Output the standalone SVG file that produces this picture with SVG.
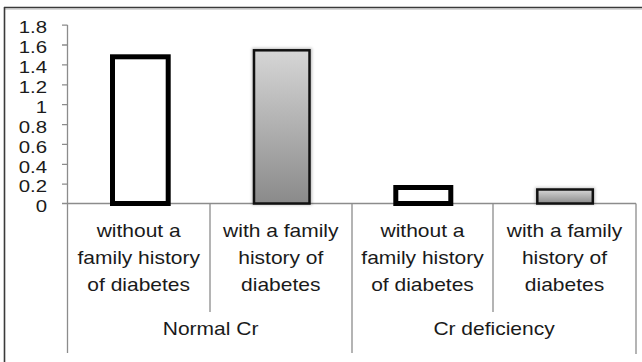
<svg xmlns="http://www.w3.org/2000/svg" width="642" height="362" viewBox="0 0 642 362">
<defs>
<linearGradient id="gray" x1="0" y1="0" x2="0" y2="1">
<stop offset="0" stop-color="#d6d6d6"/>
<stop offset="1" stop-color="#8a8a8a"/>
</linearGradient>
<filter id="sh" x="-20%" y="-20%" width="140%" height="140%">
<feGaussianBlur stdDeviation="1.5"/>
</filter>
<style>
.t{font-family:"Liberation Sans",Arial,sans-serif;font-size:17.5px;fill:#1a1a1a;text-anchor:middle}
.tk{font-family:"Liberation Sans",Arial,sans-serif;font-size:17px;fill:#1a1a1a;text-anchor:end}
.ax{stroke:#8c8c8c;stroke-width:1.3;fill:none}
.open{fill:#fff;stroke:#000;stroke-width:5}
.grad{fill:url(#gray);stroke:#111;stroke-width:2.5}
</style>
</defs>
<rect width="642" height="362" fill="#fff"/>
<g id="frame">
<line x1="4" y1="9.2" x2="642" y2="9.2" stroke="#c8c8c8" stroke-width="1"/>
<line x1="4" y1="7.5" x2="642" y2="7.5" stroke="#3a3a3a" stroke-width="1.6"/>
<line x1="4.5" y1="7" x2="4.5" y2="362" stroke="#3a3a3a" stroke-width="1.6"/>
</g>
<g id="axes" class="ax">
<line x1="67.5" y1="25" x2="67.5" y2="353"/>
<line x1="62" y1="203.5" x2="636" y2="203.5"/>
<path d="M62 25.1H67.5M62 45H67.5M62 64.9H67.5M62 84.8H67.5M62 104.7H67.5M62 124.6H67.5M62 144.4H67.5M62 164.3H67.5M62 184.2H67.5"/>
<line x1="210" y1="203.5" x2="210" y2="312"/>
<line x1="352" y1="203.5" x2="352" y2="353"/>
<line x1="493" y1="203.5" x2="493" y2="312"/>
<line x1="636" y1="203.5" x2="636" y2="354"/>
</g>
<g id="bars">
<rect id="bar1" class="open" x="112.5" y="56.8" width="55.7" height="146.7"/>
<rect x="252" y="48" width="60" height="157" fill="#000" opacity="0.25" filter="url(#sh)"/>
<rect id="bar2" class="grad" x="254" y="50.3" width="55.5" height="153.2"/>
<rect id="bar3" class="open" x="395.8" y="187.5" width="55" height="16"/>
<rect x="535" y="187.5" width="60" height="17" fill="#000" opacity="0.25" filter="url(#sh)"/>
<rect id="bar4" class="grad" x="537.3" y="189.5" width="55.5" height="14"/>
</g>
<g id="labels" transform="scale(1.2 1)">
<g id="yticks">
<text class="tk" x="39.2" y="33.5">1.8</text>
<text class="tk" x="39.2" y="53.3">1.6</text>
<text class="tk" x="39.2" y="73.2">1.4</text>
<text class="tk" x="39.2" y="93.1">1.2</text>
<text class="tk" x="39.2" y="113">1</text>
<text class="tk" x="39.2" y="132.9">0.8</text>
<text class="tk" x="39.2" y="152.8">0.6</text>
<text class="tk" x="39.2" y="172.6">0.4</text>
<text class="tk" x="39.2" y="192.5">0.2</text>
<text class="tk" x="39.2" y="212">0</text>
</g>
<g id="cat1">
<text class="t" x="115.6" y="237">without a</text>
<text class="t" x="115.6" y="264">family history</text>
<text class="t" x="115.6" y="291">of diabetes</text>
</g>
<g id="cat2">
<text class="t" x="234" y="237">with a family</text>
<text class="t" x="234" y="264">history of</text>
<text class="t" x="234" y="291">diabetes</text>
</g>
<g id="cat3">
<text class="t" x="352.1" y="237">without a</text>
<text class="t" x="352.1" y="264">family history</text>
<text class="t" x="352.1" y="291">of diabetes</text>
</g>
<g id="cat4">
<text class="t" x="470.4" y="237">with a family</text>
<text class="t" x="470.4" y="264">history of</text>
<text class="t" x="470.4" y="291">diabetes</text>
</g>
<text id="grp1" class="t" x="175.5" y="335">Normal Cr</text>
<text id="grp2" class="t" x="411.7" y="335">Cr deficiency</text>
</g>
</svg>
